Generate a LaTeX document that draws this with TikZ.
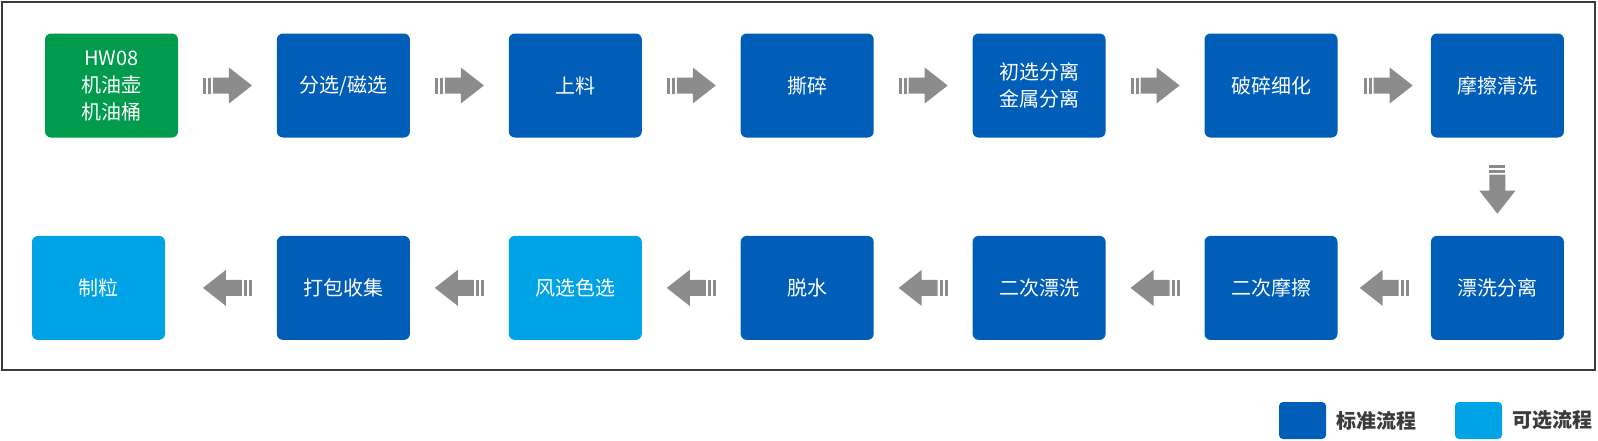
\documentclass[tikz,border=0pt]{standalone}
\usepackage{fontspec}
\setmainfont{Noto Sans CJK SC}
\usepackage{tikz}
\usetikzlibrary{positioning, calc}

\definecolor{stdblue}{HTML}{005EB8}
\definecolor{optblue}{HTML}{00A3E6}
\definecolor{startgreen}{HTML}{009B4C}
\definecolor{arrowgray}{HTML}{8C8C8C}
\definecolor{framegray}{HTML}{3F3A3A}
\definecolor{legendtext}{HTML}{3B3B3B}

\begin{document}
\begin{tikzpicture}[x=1pt, y=-1pt,
    every node/.style={inner sep=0pt, align=center},
    proc/.style={rectangle, rounded corners=6pt, minimum width=133pt, minimum height=104pt,
        fill=stdblue, text=white, font=\fontsize{20}{27}\selectfont},
    optproc/.style={proc, fill=optblue},
    startproc/.style={proc, fill=startgreen},
    legbox/.style={rectangle, rounded corners=4pt, minimum width=47pt, minimum height=37pt},
    legtext/.style={text=legendtext, font=\fontsize{20}{24}\selectfont\bfseries},
    flowarrow/.pic={
        \fill[arrowgray] (-24.5,-8) rectangle (-21.5,8);
        \fill[arrowgray] (-19.5,-8) rectangle (-16.5,8);
        \fill[arrowgray] (-14.5,-8) -- (1.5,-8) -- (1.5,-18) -- (24.5,0) -- (1.5,18) -- (1.5,8) -- (-14.5,8) -- cycle;
    }]
    \useasboundingbox (0,0) rectangle (1598,440);
    \draw[framegray, line width=2pt] (2,2) rectangle (1595,370);

    \node[startproc] (hw) at (111.5,85.5) {HW08\\机油壶\\机油桶};
    \node[proc] (fenxuan) [right=98.5pt of hw] {分选/磁选};
    \node[proc] (shangliao) [right=98.5pt of fenxuan] {上料};
    \node[proc] (sisui) [right=98.5pt of shangliao] {撕碎};
    \node[proc] (chuxuan) [right=98.5pt of sisui] {初选分离\\金属分离};
    \node[proc] (posui) [right=98.5pt of chuxuan] {破碎细化};
    \node[proc] (mocha) [right=93pt of posui] {摩擦清洗};

    \node[proc] (piaoxi) [below=98pt of mocha] {漂洗分离};
    \node[proc] (ercimocha) [left=93pt of piaoxi] {二次摩擦};
    \node[proc] (ercipiaoxi) [left=98.5pt of ercimocha] {二次漂洗};
    \node[proc] (tuoshui) [left=98.5pt of ercipiaoxi] {脱水};
    \node[optproc] (fengxuan) [left=98.5pt of tuoshui] {风选色选};
    \node[proc] (dabao) [left=98.5pt of fengxuan] {打包收集};
    \node[optproc] (zhili) [left=111.5pt of dabao] {制粒};

    \foreach \a/\b in {hw/fenxuan, fenxuan/shangliao, shangliao/sisui, sisui/chuxuan, chuxuan/posui}
        \pic at ($(\a.east)!0.5!(\b.west)$) {flowarrow};
    \pic[xshift=4pt] at ($(posui.east)!0.5!(mocha.west)$) {flowarrow};
    \pic[rotate=-90] at ($(mocha.south)!0.5!(piaoxi.north)+(0,2.5)$) {flowarrow};
    \foreach \a/\b in {piaoxi/ercimocha, ercimocha/ercipiaoxi, ercipiaoxi/tuoshui, tuoshui/fengxuan, fengxuan/dabao}
        \pic[rotate=180] at ($(\a.west)!0.5!(\b.east)$) {flowarrow};
    \pic[rotate=180] at ($(dabao.west)!0.5!(zhili.east)+(6.5,0)$) {flowarrow};

    \node[legbox, fill=stdblue] (legstd) at (1302.5,420.5) {};
    \node[legtext, anchor=west] (legstdtext) [right=10pt of legstd] {标准流程};
    \node[legbox, fill=optblue] (legopt) at (1478.5,420.5) {};
    \node[legtext, anchor=west] (legopttext) [right=10pt of legopt] {可选流程};
\end{tikzpicture}
\end{document}
